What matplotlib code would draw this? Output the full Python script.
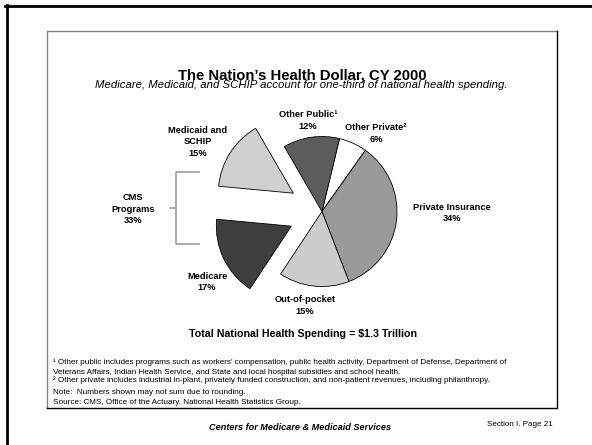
import matplotlib.pyplot as plt
from matplotlib.lines import Line2D

plt.rcParams['font.family'] = ['Liberation Sans', 'DejaVu Sans']

# slices, clockwise from the top
labels = ["Other Private\u00b2", "Private Insurance", "Out-of-pocket",
          "Medicare", "Medicaid and\nSCHIP", "Other Public\u00b9"]
shares = [6, 34, 15, 17, 15, 12]
colors = ["#ffffff", "#9a9a9a", "#cccccc", "#3e3e3e", "#d0d0d0", "#5c5c5c"]
cms_flag = [False, False, False, True, True, False]
cms_total = 33

title = "The Nation\u2019s Health Dollar, CY 2000"
subtitle = "Medicare, Medicaid, and SCHIP account for one-third of national health spending."
total_txt = "Total National Health Spending = $1.3 Trillion"
notes = [
    "\u00b9 Other public includes programs such as workers\u2019 compensation, public health activity, Department of Defense, Department of",
    "Veterans Affairs, Indian Health Service, and State and local hospital subsidies and school health.",
    "\u00b2 Other private includes industrial in-plant, privately funded construction, and non-patient revenues, including philanthropy.",
]
note_round = "Note:  Numbers shown may not sum due to rounding."
source_txt = "Source: CMS, Office of the Actuary, National Health Statistics Group."

W, H = 592, 445
fig = plt.figure(figsize=(W / 100, H / 100), dpi=100)
ax = fig.add_axes([0, 0, 1, 1])


def Y(y):
    # pixel row (from top) -> data y
    return H - y


# page frame (top and left only) and inner panel
fig.add_artist(Line2D([5 / W, 1], [1 - 6 / H, 1 - 6 / H], color="black", lw=2, transform=fig.transFigure))
fig.add_artist(Line2D([6.5 / W, 6.5 / W], [0, 1 - 5 / H], color="black", lw=2, transform=fig.transFigure))
ax.plot([46.5, 46.5, 557], [Y(408), Y(30.7), Y(30.7)], color="#808080", lw=1)
ax.plot([46.5, 557, 557], [Y(408), Y(408), Y(30.7)], color="black", lw=1)

# pie
explode = [34 if f else 0 for f in cms_flag]
wedges, _ = ax.pie(shares, colors=colors, explode=explode, startangle=76.5,
                   counterclock=False, radius=75, center=(322, Y(211.5)),
                   frame=True,
                   wedgeprops=dict(edgecolor="black", linewidth=0.6))

# slice labels
lab_pos = [(376, 133.5), (452, 213), (305, 305.5), (207, 282), (198, 142), (308, 120.5)]
for lab, val, (x, y) in zip(labels, shares, lab_pos):
    ax.text(x, Y(y), f"{lab}\n{val}%", ha="center", va="center", fontsize=6.7,
            fontweight="bold", linespacing=1.3)

# CMS bracket
ax.plot([199, 176, 176, 199], [Y(172), Y(172), Y(244), Y(244)], color="#a0a0a0", lw=1.2)
ax.plot([170, 176], [Y(208), Y(208)], color="#a0a0a0", lw=1.2)
ax.text(133, Y(209), f"CMS\nPrograms\n{cms_total}%", ha="center", va="center",
        fontsize=6.7, fontweight="bold", linespacing=1.3)

# titles
ax.text(302.5, Y(79), title, ha="center", va="baseline", fontsize=10.7, fontweight="bold")
ax.text(301.5, Y(88), subtitle, ha="center", va="baseline", fontsize=8.2, style="italic")
ax.text(303, Y(337), total_txt, ha="center", va="baseline", fontsize=7.7, fontweight="bold")

# footnotes
for txt, y in zip(notes, [364.5, 373.5, 382]):
    ax.text(53.3, Y(y), txt, ha="left", va="baseline", fontsize=5.85)
ax.text(53.3, Y(393.5), note_round, ha="left", va="baseline", fontsize=5.85)
ax.text(53.3, Y(404), source_txt, ha="left", va="baseline", fontsize=5.85)

ax.text(300, Y(430), "Centers for Medicare & Medicaid Services", ha="center",
        va="baseline", fontsize=6.6, fontweight="bold", style="italic")
ax.text(553, Y(426), "Section I. Page 21", ha="right", va="baseline", fontsize=5.8)

ax.set_xlim(0, W)
ax.set_ylim(0, H)
ax.set_aspect("auto")
ax.axis("off")

fig.savefig("out.png", dpi=100)
